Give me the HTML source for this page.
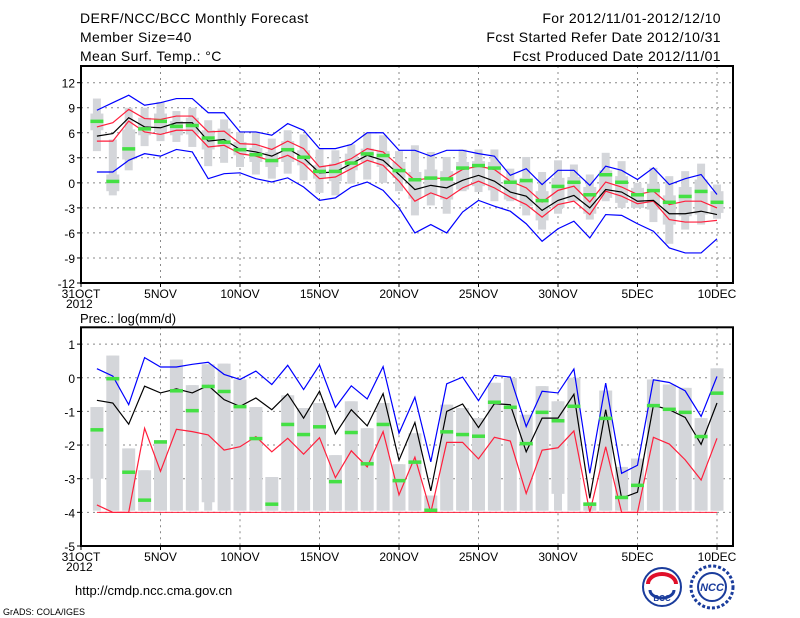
<!DOCTYPE html>
<html><head><meta charset="utf-8">
<style>
body{margin:0;background:#fff;width:800px;height:618px;overflow:hidden;font-family:"Liberation Sans",sans-serif;}
svg{position:absolute;left:0;top:0}
text{font-family:"Liberation Sans",sans-serif;fill:#000}
.hd{font-size:14px;letter-spacing:0.4px}
</style></head><body>
<svg id="c" width="800" height="618">
<text class="hd" x="80" y="23">DERF/NCC/BCC Monthly Forecast</text>
<text class="hd" x="80" y="42">Member Size=40</text>
<text class="hd" x="80" y="61">Mean Surf. Temp.: °C</text>
<text class="hd" x="721" y="23" text-anchor="end">For 2012/11/01-2012/12/10</text>
<text class="hd" x="721" y="42" text-anchor="end">Fcst Started Refer Date 2012/10/31</text>
<text class="hd" x="721" y="61" text-anchor="end">Fcst Produced Date 2012/11/01</text>
<text x="80" y="323" font-size="13">Prec.: log(mm/d)</text>
<text x="75" y="595" font-size="13">http://cmdp.ncc.cma.gov.cn</text>
<text x="3" y="615" font-size="9">GrADS: COLA/IGES</text>
<g>
<circle cx="662" cy="587" r="19" fill="#fff" stroke="#1a3c9c" stroke-width="2"/>
<path d="M648 584 a14 10 0 0 1 28 0" fill="none" stroke="#e0102a" stroke-width="4"/>
<path d="M650 590 a12 8 0 0 0 24 0" fill="none" stroke="#1a3c9c" stroke-width="3"/>
<text x="662" y="601" font-size="8" text-anchor="middle" font-weight="bold" style="fill:#1a3c9c">BCC</text>
</g>
<g>
<circle cx="712" cy="587" r="21" fill="#fff" stroke="#1a3c9c" stroke-width="3" stroke-dasharray="3 2"/>
<circle cx="712" cy="587" r="14" fill="none" stroke="#1a3c9c" stroke-width="2"/>
<text x="712" y="591" font-size="11" text-anchor="middle" font-weight="bold" font-style="italic" style="fill:#1a3c9c">NCC</text>
</g>
</svg>
<script>
// ---- temperature panel data (days 1..40 = Nov 1 .. Dec 10) ----
const tBlueHi=[8.7,9.6,10.5,9.3,9.6,10.1,10.1,8.4,8.4,6.1,6.1,5.7,7.1,6.3,4.1,4.1,4.6,6.0,6.0,3.9,3.9,3.2,3.9,3.9,3.5,3.2,0.9,1.7,-0.2,1.5,1.5,-0.3,2.0,1.5,0.4,1.8,-0.2,0.5,1.0,-1.4];
const tBlueLo=[1.3,1.3,2.7,3.5,3.2,4.0,3.7,0.5,1.1,1.2,0.5,0.1,0.6,-0.5,-2.1,-1.8,-0.5,0.1,-0.9,-3.0,-6.0,-5.0,-6.0,-3.5,-2.1,-2.8,-3.4,-4.9,-7.0,-5.5,-4.6,-6.6,-3.8,-3.9,-4.9,-5.8,-7.8,-8.4,-8.4,-6.7];
const tRedHi=[6.7,7.2,8.8,7.7,7.6,8.0,8.0,6.1,6.2,4.7,4.6,4.0,5.0,4.1,1.9,2.2,2.9,4.1,3.7,2.0,0.3,0.6,0.5,1.6,2.0,1.6,0.2,-0.6,-2.3,-0.9,-0.4,-2.3,0.1,-0.5,-1.4,-1.0,-2.6,-2.2,-2.2,-3.0];
const tMean=[5.6,5.9,7.8,6.7,6.6,7.2,7.2,5.0,5.2,4.0,3.7,3.2,4.1,3.0,1.2,1.3,2.3,3.3,2.7,1.0,-0.8,-0.3,-0.6,0.3,0.9,0.2,-1.1,-1.6,-3.3,-2.1,-1.5,-3.0,-0.8,-1.1,-2.2,-2.1,-3.7,-3.7,-3.4,-3.8];
const tRedLo=[5.0,5.0,7.4,6.1,5.8,6.3,6.3,4.3,4.5,3.5,3.2,2.6,3.3,2.3,0.5,0.7,1.7,2.7,2.1,0.2,-2.2,-1.2,-1.9,-0.6,0.2,-0.6,-1.7,-2.6,-4.1,-2.6,-2.2,-3.8,-1.0,-1.6,-2.5,-2.2,-4.4,-4.7,-4.7,-4.5];
const tObs=[7.4,0.2,4.1,6.5,7.4,6.8,6.9,5.4,4.9,4.0,3.4,2.7,4.0,3.1,1.4,1.4,2.4,3.5,3.3,1.5,0.4,0.6,0.5,1.8,2.1,1.8,0.1,0.3,-2.1,-0.4,0.1,-1.4,1.0,0.1,-1.4,-0.9,-2.3,-1.6,-1.0,-2.3];
const tMin=[3.8,-1.5,1.5,4.4,5.0,4.9,4.3,2.0,2.4,1.9,1.0,0.5,1.1,0.3,-1.2,-1.5,-0.1,0.4,0.0,-1.0,-3.9,-2.7,-3.7,-1.0,-1.1,-2.2,-2.2,-3.9,-5.6,-3.7,-2.2,-4.4,-2.2,-3.0,-2.8,-4.7,-7.3,-5.6,-5.0,-4.3];
const tMax=[10.1,5.2,9.0,9.0,9.7,8.6,9.0,7.5,7.6,6.1,6.1,5.3,6.3,5.8,4.0,3.9,4.6,6.0,5.7,3.8,4.5,3.7,3.1,4.0,4.0,4.0,1.7,3.1,1.3,2.7,2.2,1.0,3.6,2.6,0.0,1.8,0.8,1.4,2.3,-0.2];
const tQ1=[6.3,-1.0,2.8,5.7,6.1,5.7,5.8,4.0,4.3,3.3,2.5,1.9,2.5,2.1,0.5,0.2,1.5,2.5,1.9,0.6,-1.9,-1.5,-2.0,-0.8,-0.4,-0.9,-2.0,-2.8,-4.5,-3.0,-2.2,-3.7,-1.8,-2.4,-3.0,-3.2,-5.0,-4.0,-3.8,-3.6];
const tQ3=[8.3,1.0,6.4,7.8,8.3,7.4,7.8,6.3,6.5,4.9,4.2,3.7,5.0,3.9,2.1,2.3,3.5,4.1,3.8,2.5,1.3,1.6,1.4,2.5,2.6,2.5,0.4,0.6,-1.0,0.6,0.7,-0.5,1.5,0.8,-0.6,-0.1,-1.5,-0.5,0.4,-1.0];
const tTicks=[12,9,6,3,0,-3,-6,-9,-12];
// ---- precipitation panel data ----
const pBlue=[0.27,0.05,-0.8,0.6,0.32,0.32,0.4,0.46,0.1,-0.05,0.2,-0.2,0.37,-0.35,0.38,-0.88,-0.24,-0.63,0.33,-1.65,-0.58,-2.5,-0.18,0.02,-0.68,0.07,0.02,-1.45,-0.4,-0.45,0.26,-2.84,-0.16,-2.84,-2.6,-0.06,-0.14,-0.39,-1.15,0.04];
const pMean=[-0.67,-0.75,-1.38,-0.25,-0.45,-0.33,-0.45,-0.23,-0.65,-0.85,-0.6,-0.95,-0.48,-1.2,-0.4,-1.67,-0.95,-1.43,-0.47,-2.45,-1.33,-3.36,-1.0,-0.78,-1.48,-0.77,-0.8,-2.2,-1.2,-1.2,-0.49,-3.58,-0.95,-3.58,-3.4,-0.82,-0.95,-1.18,-1.98,-0.75];
const pRed=[-3.78,-4,-4,-1.5,-2.78,-1.53,-1.6,-1.7,-2.15,-2.05,-1.75,-2.2,-1.8,-2.27,-1.78,-2.97,-2.17,-2.65,-1.6,-3.48,-2.36,-4,-1.92,-1.92,-2.41,-1.77,-1.88,-3.44,-2.15,-2.08,-1.58,-4,-2.05,-4,-4,-1.77,-1.97,-2.44,-3.04,-1.8];
const pObs=[-1.54,-0.02,-2.8,-3.63,-1.9,-0.38,-0.97,-0.25,-0.4,-0.85,-1.8,-3.75,-1.38,-1.68,-1.45,-3.08,-1.62,-2.55,-1.38,-3.05,-2.5,-3.93,-1.6,-1.68,-1.73,-0.72,-0.87,-1.95,-1.02,-1.27,-0.84,-3.75,-1.2,-3.55,-3.19,-0.82,-0.93,-1.02,-1.74,-0.45];
const pMax=[-0.87,0.66,-2.1,-2.75,-1.85,0.54,-0.22,0.4,0.42,-0.05,-0.87,-2.95,-0.52,-0.9,-0.75,-2.3,-0.7,-1.5,-0.75,-2.57,-1.65,-3.5,-0.8,-0.9,-1.2,-0.15,0.0,-1.1,-0.25,-0.7,0.0,-3.7,-0.38,-2.65,-2.4,-0.05,-0.2,-0.3,-1.2,0.28];
const pQ1=[-3.0,-3.95,-3.95,-3.95,-3.95,-3.95,-3.95,-3.7,-3.95,-3.95,-3.95,-3.95,-3.95,-3.95,-3.95,-3.95,-3.95,-3.95,-3.95,-3.95,-3.95,-3.95,-3.95,-3.95,-3.95,-3.95,-3.95,-3.95,-3.95,-3.45,-3.95,-3.95,-3.95,-3.95,-3.95,-3.95,-3.95,-3.95,-3.95,-3.95];
const pMinVal=-3.95;
const pFloor=-4;
const pTicks=[1,0,-1,-2,-3,-4,-5];
const xTickDays=[0,5,10,15,20,25,30,35,40];
const xTickLabels=['31OCT','5NOV','10NOV','15NOV','20NOV','25NOV','30NOV','5DEC','10DEC'];

const NS='http://www.w3.org/2000/svg';
const svg=document.getElementById('c');
const X0=81,DX=15.9,XR=733;
const xs=d=>X0+d*DX;
function mk(tag,attrs,parent){const e=document.createElementNS(NS,tag);for(const k in attrs)e.setAttribute(k,attrs[k]);(parent||svg).appendChild(e);return e;}

function panel(cfg){
  const g=mk('g',{});
  
  
  const ys=v=>cfg.y0+(cfg.vTop-v)*cfg.k;
  cfg.ticks.forEach(t=>{
    const l=mk('line',{x1:X0,x2:XR,y1:ys(t),y2:ys(t),stroke:'#888','stroke-dasharray':'2 4','stroke-width':1},g);
    
    
    const tx=mk('text',{x:X0-6,y:ys(t)+5,'font-size':12,'text-anchor':'end'},g);
    tx.textContent=t;
    
    
    mk('line',{x1:X0-4,x2:X0,y1:ys(t),y2:ys(t),stroke:'#000'},g);
  });
  xTickDays.forEach((d,i)=>{
    if(d>0){const l=mk('line',{x1:xs(d),x2:xs(d),y1:cfg.y0,y2:cfg.y1,stroke:'#888','stroke-dasharray':'2 4'},g);
    
    }
    mk('line',{x1:xs(d),x2:xs(d),y1:cfg.y1,y2:cfg.y1+4,stroke:'#000'},g);
    const tx=mk('text',{x:xs(d),y:cfg.y1+15,'font-size':12,'text-anchor':'middle'},g);
    tx.textContent=xTickLabels[i];
    
    
  });
  const yr=mk('text',{x:X0-15,y:cfg.y1+25,'font-size':12},g);
  yr.textContent='2012';
  
  
  for(let i=0;i<40;i++){
    const x=xs(i+1);
    const a=mk('rect',{x:x-4,width:8,y:ys(cfg.max[i]),height:Math.max(0,ys(cfg.min[i])-ys(cfg.max[i])),fill:'#d4d6da'},g);
    
    
    const b=mk('rect',{x:x-6.5,width:13,y:ys(cfg.q3[i]),height:Math.max(0,ys(cfg.q1[i])-ys(cfg.q3[i])),fill:'#d4d6da'},g);
    
    
  }
  if(cfg.floor!==undefined){
    const f=mk('line',{x1:xs(1),x2:xs(40),y1:ys(cfg.floor),y2:ys(cfg.floor),stroke:'#ff1f3c'},g);
    
    
  }
  cfg.lines.forEach(L=>{
    const p=mk('polyline',{points:L.v.map((v,i)=>xs(i+1)+','+ys(v)).join(' '),fill:'none',stroke:L.c,'stroke-width':1.2},g);
    
    
  });
  cfg.obs.forEach((v,i)=>{
    const r=mk('rect',{x:xs(i+1)-6.5,width:13,y:ys(v)-1.5,height:3.5,fill:'#44e044'},g);
    
    
  });
  const fr=mk('rect',{x:X0,y:cfg.y0,width:XR-X0,height:cfg.y1-cfg.y0,fill:'none',stroke:'#000','stroke-width':2},g);
  
  
}
panel({name:'temperature-panel',y0:66,y1:283,vTop:14,k:217/26,ticks:tTicks,
  min:tMin,max:tMax,q1:tQ1,q3:tQ3,obs:tObs,
  lines:[{v:tBlueHi,c:'#0000ff',n:'blue-upper-line'},{v:tBlueLo,c:'#0000ff',n:'blue-lower-line'},
         {v:tRedHi,c:'#ff1f3c',n:'red-upper-line'},{v:tRedLo,c:'#ff1f3c',n:'red-lower-line'},
         {v:tMean,c:'#000',n:'ensemble-mean-line'}]});
panel({name:'precip-panel',y0:327.3,y1:546,vTop:1.5,k:218.7/6.5,ticks:pTicks,
  min:pMax.map(()=>pMinVal),max:pMax,q1:pQ1,q3:pMax,obs:pObs,floor:pFloor,
  lines:[{v:pBlue,c:'#0000ff',n:'blue-upper-line'},{v:pRed,c:'#ff1f3c',n:'red-lower-line'},
         {v:pMean,c:'#000',n:'ensemble-mean-line'}]});
</script>
</body></html>
